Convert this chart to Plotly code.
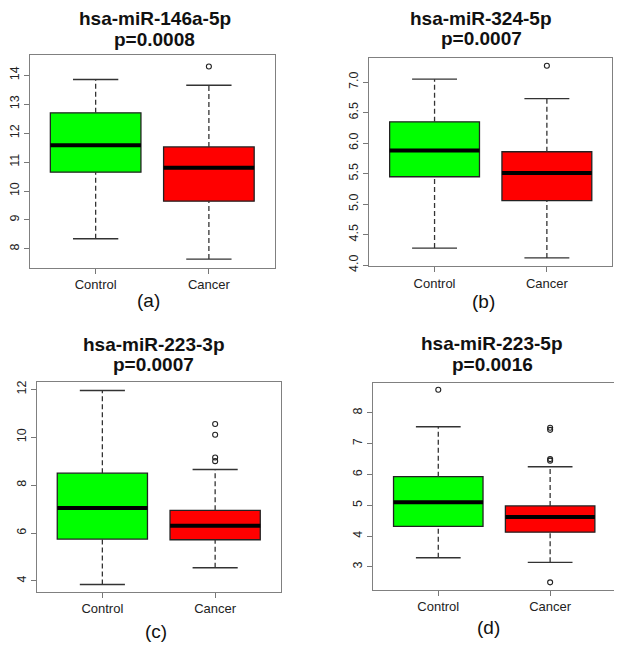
import plotly.graph_objects as go

categories = ["Control", "Cancer"]
positions = [1, 2]
titles = ["hsa-miR-146a-5p", "hsa-miR-324-5p", "hsa-miR-223-3p", "hsa-miR-223-5p"]
pvalues = ["p=0.0008", "p=0.0007", "p=0.0007", "p=0.0016"]
panel_labels = ["(a)", "(b)", "(c)", "(d)"]
box_colors = ["#00FF00", "#FF0000"]

# values per panel: [Control, Cancer]
lower_a = [8.35, 7.65]
q1_a = [10.65, 9.65]
median_a = [11.58, 10.80]
q3_a = [12.70, 11.52]
upper_a = [13.85, 13.65]
outliers_a = [[], [14.30]]

lower_b = [4.28, 4.12]
q1_b = [5.45, 5.06]
median_b = [5.88, 5.51]
q3_b = [6.35, 5.86]
upper_b = [7.05, 6.73]
outliers_b = [[], [7.27]]

lower_c = [3.85, 4.55]
q1_c = [5.75, 5.72]
median_c = [7.05, 6.30]
q3_c = [8.50, 6.95]
upper_c = [11.95, 8.65]
outliers_c = [[], [10.55, 10.10, 9.15, 9.00]]

lower_d = [3.30, 3.15]
q1_d = [4.32, 4.13]
median_d = [5.10, 4.62]
q3_d = [5.93, 4.98]
upper_d = [7.55, 6.25]
outliers_d = [[8.75], [7.52, 7.45, 6.50, 6.45, 2.50]]

y_ranges = [[7.35, 14.68], [3.99, 7.39], [3.55, 12.29], [2.26, 8.96]]
y_ticks = [[8, 9, 10, 11, 12, 13, 14],
           [4.0, 4.5, 5.0, 5.5, 6.0, 6.5, 7.0],
           [4, 6, 8, 10, 12],
           [3, 4, 5, 6, 7, 8]]
y_tickfmt = ["d", ".1f", "d", "d"]

panels = [
    (lower_a, q1_a, median_a, q3_a, upper_a, outliers_a),
    (lower_b, q1_b, median_b, q3_b, upper_b, outliers_b),
    (lower_c, q1_c, median_c, q3_c, upper_c, outliers_c),
    (lower_d, q1_d, median_d, q3_d, upper_d, outliers_d),
]

# the page body has an 8px margin; the figure is shifted by it
OFF = 8
W, H = 614, 648
# page-pixel frames of each plot region: (x0, x1, y_top, y_bottom)
frames = [(29, 274, 54, 269), (369, 612, 57, 267), (36, 280, 385, 597), (373, 615, 386, 595)]
title_pos = [(154, 17, 38), (481, 17, 37), (153, 347, 367), (492, 346, 367)]
label_pos = [(148, 302), (483, 303), (155, 637), (488, 633)]

BOXW = 0.8
CAPW = 0.4
FONT = "Liberation Sans, Arial"


def px_x(p):
    return (p - OFF) / W


def px_y(p):
    return 1 - (p - OFF) / H


fig = go.Figure()
annotations = []
layout = {}
for i, (lo, q1, med, q3, up, outl) in enumerate(panels):
    n = "" if i == 0 else str(i + 1)
    xa, ya = "x" + n, "y" + n
    for j in range(2):
        p = positions[j]
        fig.add_trace(go.Box(
            x=[p], q1=[q1[j]], median=[med[j]], q3=[q3[j]],
            lowerfence=[q1[j]], upperfence=[q3[j]],
            width=BOXW, whiskerwidth=0, fillcolor=box_colors[j],
            line=dict(color="#222222", width=1.3), boxpoints=False,
            xaxis=xa, yaxis=ya, showlegend=False, hoverinfo="skip"))
        # dashed whiskers
        for a, b in [(q3[j], up[j]), (lo[j], q1[j])]:
            fig.add_trace(go.Scatter(
                x=[p, p], y=[a, b], mode="lines",
                line=dict(color="#333333", width=1.3, dash="5px,3px"),
                xaxis=xa, yaxis=ya, showlegend=False, hoverinfo="skip"))
        # caps
        for v in [up[j], lo[j]]:
            fig.add_trace(go.Scatter(
                x=[p - CAPW / 2, p + CAPW / 2], y=[v, v], mode="lines",
                line=dict(color="#333333", width=1.4),
                xaxis=xa, yaxis=ya, showlegend=False, hoverinfo="skip"))
        # thick median
        fig.add_trace(go.Scatter(
            x=[p - BOXW / 2, p + BOXW / 2], y=[med[j], med[j]], mode="lines",
            line=dict(color="#000000", width=4),
            xaxis=xa, yaxis=ya, showlegend=False, hoverinfo="skip"))
        if outl[j]:
            fig.add_trace(go.Scatter(
                x=[p] * len(outl[j]), y=outl[j], mode="markers",
                marker=dict(symbol="circle-open", size=5, color="#222222",
                            line=dict(width=1.1, color="#222222")),
                xaxis=xa, yaxis=ya, showlegend=False, hoverinfo="skip"))

    x0, x1, y0, y1 = frames[i]
    layout["xaxis" + n] = dict(
        domain=[px_x(x0), min(px_x(x1), 1)], range=[0.42, 2.58], anchor=ya,
        tickvals=positions, ticktext=categories, ticks="outside", ticklen=5,
        tickcolor="#777777", showline=True, mirror=True, linecolor="#808080",
        linewidth=1.2, showgrid=False, zeroline=False,
        tickfont=dict(family=FONT, size=13, color="#222222"))
    layout["yaxis" + n] = dict(
        domain=[px_y(y1), px_y(y0)], range=y_ranges[i], anchor=xa,
        tickvals=y_ticks[i], tickformat=y_tickfmt[i], tickangle=-90,
        ticks="outside", ticklen=5, tickcolor="#777777",
        showline=True, mirror=True, linecolor="#808080", linewidth=1.2,
        showgrid=False, zeroline=False,
        tickfont=dict(family=FONT, size=12.5, color="#222222"))

    tx, ty1, ty2 = title_pos[i]
    for txt, ty in [(titles[i], ty1), (pvalues[i], ty2)]:
        annotations.append(dict(
            x=px_x(tx), y=px_y(ty), xref="paper", yref="paper", showarrow=False,
            text="<b>" + txt + "</b>",
            font=dict(family=FONT, size=19, color="#111111"),
            xanchor="center", yanchor="middle"))
    lx, ly = label_pos[i]
    annotations.append(dict(
        x=px_x(lx), y=px_y(ly), xref="paper", yref="paper", showarrow=False,
        text=panel_labels[i],
        font=dict(family=FONT, size=19, color="#111111"),
        xanchor="center", yanchor="middle"))

fig.update_layout(
    width=W, height=H, margin=dict(l=0, r=0, t=0, b=0),
    paper_bgcolor="white", plot_bgcolor="white",
    annotations=annotations, **layout)

fig.write_html("out.html")
